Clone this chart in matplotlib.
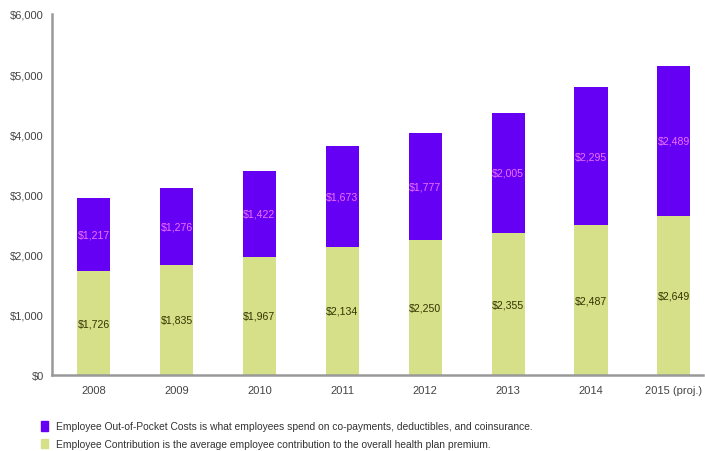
import matplotlib.pyplot as plt
from matplotlib.patches import Patch
from matplotlib.ticker import FuncFormatter

plt.rcParams['font.family'] = ['Liberation Sans', 'DejaVu Sans']

years = ['2008', '2009', '2010', '2011', '2012', '2013', '2014', '2015 (proj.)']
contribution = [1726, 1835, 1967, 2134, 2250, 2355, 2487, 2649]
out_of_pocket = [1217, 1276, 1422, 1673, 1777, 2005, 2295, 2489]

purple = '#6600f5'
green = '#d5e088'

fig = plt.figure(figsize=(7.05, 4.52), dpi=100)
ax = fig.add_axes([0.074, 0.168, 0.923, 0.799])

x = range(len(years))
ax.bar(x, contribution, width=0.4, color=green)
ax.bar(x, out_of_pocket, width=0.4, bottom=contribution, color=purple)

# value labels in the middle of each segment
for i, (c, o) in enumerate(zip(contribution, out_of_pocket)):
    ax.text(i, c / 2, f'${c:,}', ha='center', va='center', fontsize=7.6, color='#333300')
    ax.text(i, c + o / 2, f'${o:,}', ha='center', va='center', fontsize=7.6, color='#f070ff')

ax.set_ylim(0, 6000)
ax.set_xlim(-0.5, 7.35)
ax.set_yticks(range(0, 6001, 1000))
ax.yaxis.set_major_formatter(FuncFormatter(lambda v, p: f'${v:,.0f}'))
ax.set_xticks(list(x))
ax.set_xticklabels(years)
ax.tick_params(length=0, labelsize=8, colors='#444444')
ax.tick_params(axis='y', pad=6)
ax.tick_params(axis='x', pad=7)

for side in ['top', 'right']:
    ax.spines[side].set_visible(False)
for side in ['left', 'bottom']:
    ax.spines[side].set_color('#999999')
    ax.spines[side].set_linewidth(1.8)

handles = [
    Patch(color=purple, label='Employee Out-of-Pocket Costs is what employees spend on co-payments, deductibles, and coinsurance.'),
    Patch(color=green, label='Employee Contribution is the average employee contribution to the overall health plan premium.'),
]
fig.legend(handles=handles, loc='lower left', bbox_to_anchor=(0.045, -0.016), frameon=False,
           fontsize=7.4, handlelength=0.7, handleheight=1.1, handletextpad=0.8,
           labelspacing=0.7, labelcolor='#333333')

plt.savefig('out.png', dpi=100)
